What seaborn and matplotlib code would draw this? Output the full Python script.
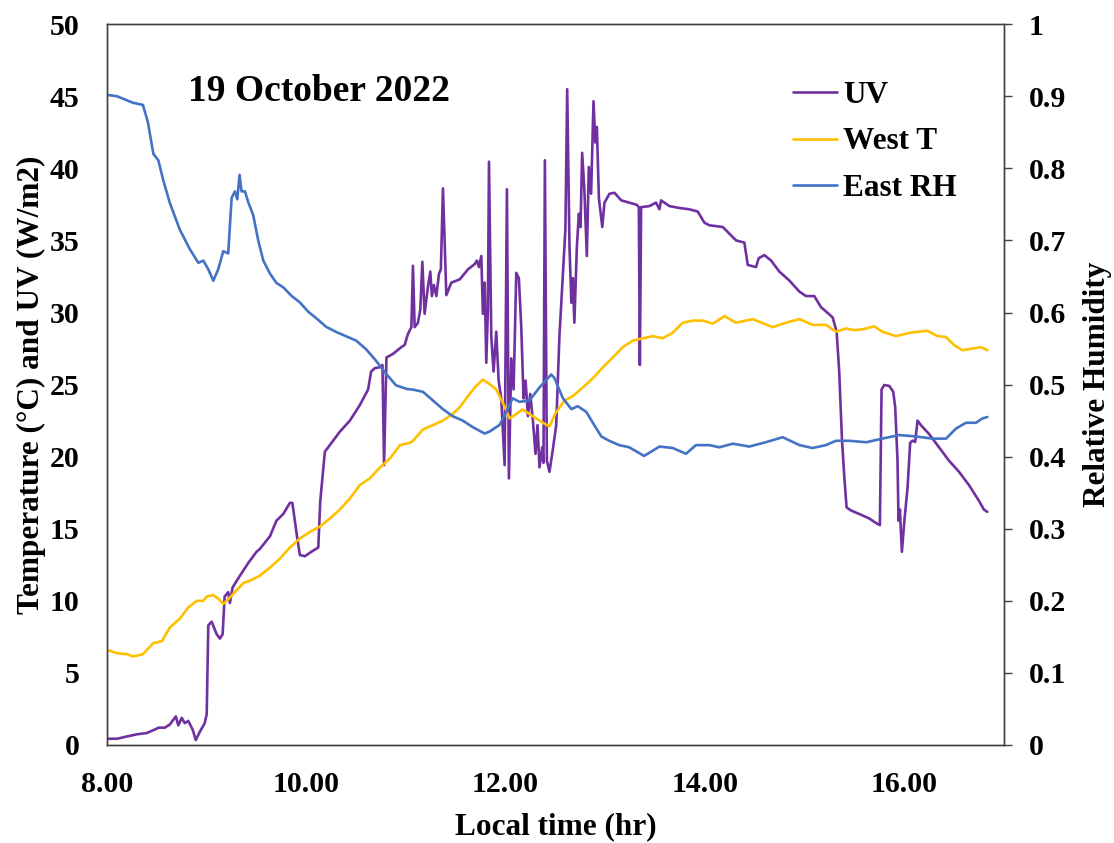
import pandas as pd
import matplotlib
matplotlib.use("Agg")
import matplotlib.pyplot as plt
import seaborn as sns

# UV (W/m2)
uv_time = [8.00, 8.10, 8.20, 8.30, 8.40, 8.47, 8.52, 8.58, 8.63, 8.69, 8.715, 8.75, 8.78, 8.815,
           8.86, 8.89, 8.93, 8.98, 9.00, 9.016, 9.05, 9.10, 9.133, 9.16, 9.18, 9.216, 9.233, 9.26,
           9.33, 9.417, 9.50, 9.534, 9.635, 9.70, 9.768, 9.835, 9.86, 9.90, 9.935, 9.985, 10.05,
           10.12, 10.14, 10.186, 10.236, 10.336, 10.437, 10.537, 10.62, 10.65, 10.687, 10.737,
           10.764, 10.78, 10.804, 10.87, 10.954, 10.987, 11.02, 11.054, 11.07, 11.087, 11.12,
           11.144, 11.164, 11.187, 11.22, 11.244, 11.26, 11.28, 11.305, 11.331, 11.35, 11.371,
           11.405, 11.455, 11.54, 11.622, 11.69, 11.712, 11.732, 11.756, 11.772, 11.79, 11.806,
           11.822, 11.833, 11.856, 11.879, 11.906, 11.93, 11.956, 11.99, 12.013, 12.033, 12.057,
           12.08, 12.107, 12.133, 12.157, 12.18, 12.20, 12.224, 12.247, 12.274, 12.30, 12.32,
           12.34, 12.367, 12.38, 12.394, 12.414, 12.44, 12.474, 12.508, 12.54, 12.575, 12.60,
           12.618, 12.641, 12.66, 12.675, 12.69, 12.715, 12.735, 12.752, 12.768, 12.79, 12.815,
           12.835, 12.858, 12.882, 12.90, 12.916, 12.936, 12.97, 12.992, 13.043, 13.093, 13.16,
           13.243, 13.317, 13.337, 13.347, 13.36, 13.443, 13.51, 13.544, 13.56, 13.644, 13.744,
           13.845, 13.928, 13.995, 14.045, 14.18, 14.246, 14.313, 14.396, 14.43, 14.513, 14.54,
           14.597, 14.663, 14.747, 14.847, 14.948, 15.014, 15.098, 15.165, 15.232, 15.282,
           15.322, 15.348, 15.375, 15.40, 15.422, 15.465, 15.55, 15.65, 15.716, 15.756, 15.773,
           15.80, 15.85, 15.89, 15.91, 15.933, 15.943, 15.957, 15.977, 16.00, 16.034, 16.06,
           16.084, 16.11, 16.134, 16.167, 16.25, 16.35, 16.45, 16.55, 16.65, 16.75, 16.80, 16.835]
uv_value = [0.43, 0.43, 0.59, 0.74, 0.83, 1.05, 1.20, 1.20, 1.42, 1.98, 1.36, 1.88, 1.51, 1.67,
            1.05, 0.34, 0.90, 1.51, 2.13, 8.30, 8.55, 7.68, 7.38, 7.68, 10.30, 10.60, 9.85, 10.93,
            11.70, 12.62, 13.40, 13.60, 14.48, 15.56, 16.02, 16.79, 16.79, 14.78, 13.18, 13.09, 13.40,
            13.70, 16.94, 20.34, 20.80, 21.73, 22.50, 23.58, 24.66, 25.90, 26.14, 26.20,
            26.36, 19.41, 26.88, 27.13, 27.60, 27.75, 28.52, 28.98, 33.24, 28.98, 29.29,
            30.22, 33.52, 29.91, 31.76, 32.84, 31.14, 31.91, 31.14, 32.68, 32.99, 38.61,
            31.20, 32.07, 32.30, 32.99, 33.36, 33.60, 33.15, 33.92, 29.91, 32.07, 26.51,
            30.22, 40.46, 28.36, 25.90, 28.67, 25.28, 24.04, 19.41, 38.55, 18.49, 26.82,
            24.66, 32.75, 32.38, 28.98, 24.04, 25.28, 22.81, 24.35, 22.50, 20.19, 22.19,
            19.26, 20.65, 19.57, 40.56, 19.72, 18.95, 20.50, 22.20, 28.36, 32.68, 35.77,
            45.49, 34.54, 30.68, 32.38, 29.29, 34.54, 36.85, 35.93, 41.08, 38.55, 33.92,
            40.09, 38.24, 44.66, 41.79, 42.87, 37.93, 35.93, 37.62, 38.24, 38.30, 37.78,
            37.62, 37.47, 37.31, 26.36, 37.31, 37.38, 37.62, 37.16, 37.78, 37.38, 37.25,
            37.16, 37.00, 36.23, 36.05, 35.93, 35.46, 35.00, 34.85, 33.30, 33.15, 33.77,
            33.98, 33.61, 32.84, 32.22, 31.45, 31.14, 31.14, 30.37, 29.97, 29.66,
            28.67, 25.90, 21.27, 18.49, 16.48, 16.27, 16.02, 15.71, 15.40, 15.25, 24.66,
            24.97, 24.91, 24.50, 23.43, 19.72, 15.56, 16.33, 13.40, 15.40, 17.87, 20.96,
            21.11, 21.02, 22.50, 22.19, 21.57, 20.65, 19.72, 18.95, 18.03, 16.94, 16.33, 16.17]

# West T (deg C)
west_time = [8.00, 8.10, 8.20, 8.26, 8.36, 8.465, 8.55, 8.63, 8.73, 8.815, 8.90, 8.966, 9.00,
             9.066, 9.116, 9.166, 9.216, 9.283, 9.367, 9.45, 9.534, 9.635, 9.735, 9.835, 9.935,
             10.036, 10.136, 10.236, 10.336, 10.437, 10.537, 10.637, 10.74, 10.84, 10.94, 11.04,
             11.07, 11.17, 11.27, 11.37, 11.47, 11.54, 11.605, 11.69, 11.77, 11.84, 11.906,
             11.973, 12.04, 12.107, 12.17, 12.24, 12.307, 12.374, 12.44, 12.50, 12.59, 12.675,
             12.775, 12.875, 12.976, 13.076, 13.176, 13.277, 13.377, 13.477, 13.577, 13.677,
             13.778, 13.878, 13.978, 14.08, 14.196, 14.31, 14.48, 14.68, 14.81, 14.95, 15.08,
             15.215, 15.315, 15.415, 15.50, 15.58, 15.70, 15.78, 15.917, 16.067, 16.234, 16.335,
             16.418, 16.50, 16.585, 16.685, 16.77, 16.835]
west_temp = [6.60, 6.36, 6.30, 6.14, 6.30, 7.07, 7.20, 8.15, 8.76, 9.54, 10.00, 10.00, 10.30,
             10.40, 10.15, 9.78, 10.10, 10.60, 11.23, 11.45, 11.75, 12.30, 12.93, 13.70, 14.32,
             14.78, 15.15, 15.71, 16.33, 17.10, 18.03, 18.49, 19.26, 19.88, 20.80, 20.96,
             21.10, 21.88, 22.19, 22.50, 22.96, 23.43, 24.04, 24.80, 25.34, 25.03, 24.66,
             23.73, 22.65, 22.96, 23.27, 22.96, 22.65, 22.35, 22.10, 23.00, 23.89, 24.20,
             24.80, 25.43, 26.20, 26.88, 27.60, 28.05, 28.21, 28.36, 28.21, 28.60,
             29.29, 29.44, 29.44, 29.23, 29.75, 29.29, 29.54, 28.98, 29.29, 29.54, 29.14,
             29.14, 28.67, 28.89, 28.78, 28.83, 29.04, 28.67, 28.36, 28.61, 28.73, 28.36,
             28.30, 27.75, 27.38, 27.50, 27.60, 27.38]

# East RH (fraction)
east_time = [8.00, 8.10, 8.26, 8.36, 8.41, 8.465, 8.515, 8.565, 8.63, 8.73, 8.83, 8.916, 8.966,
             9.016, 9.066, 9.116, 9.166, 9.216, 9.25, 9.283, 9.307, 9.33, 9.35, 9.384, 9.417,
             9.467, 9.517, 9.568, 9.635, 9.70, 9.768, 9.852, 9.935, 10.02, 10.10, 10.20, 10.30,
             10.40, 10.50, 10.60, 10.70, 10.80, 10.90, 11.005, 11.07, 11.17, 11.27, 11.37, 11.47,
             11.57, 11.67, 11.79, 11.84, 11.94, 12.006, 12.07, 12.14, 12.24, 12.34, 12.458,
             12.49, 12.575, 12.66, 12.725, 12.81, 12.875, 12.96, 13.04, 13.14, 13.24, 13.39,
             13.544, 13.677, 13.81, 13.91, 14.045, 14.145, 14.28, 14.446, 14.61, 14.78, 14.95,
             15.08, 15.215, 15.315, 15.45, 15.62, 15.78, 15.95, 16.12, 16.285, 16.42, 16.52,
             16.62, 16.72, 16.785, 16.835]
east_rh = [0.902, 0.900, 0.891, 0.888, 0.864, 0.820, 0.811, 0.783, 0.752, 0.715, 0.688, 0.669, 0.672,
           0.660, 0.644, 0.660, 0.685, 0.682, 0.759, 0.768, 0.757, 0.791, 0.768, 0.768, 0.753,
           0.735, 0.700, 0.672, 0.654, 0.641, 0.635, 0.623, 0.614, 0.601, 0.592, 0.580, 0.573,
           0.567, 0.561, 0.549, 0.533, 0.515, 0.499, 0.494, 0.493, 0.490, 0.478, 0.466, 0.456,
           0.450, 0.441, 0.432, 0.435, 0.444, 0.462, 0.481, 0.476, 0.478, 0.496, 0.514,
           0.509, 0.481, 0.466, 0.470, 0.462, 0.447, 0.428, 0.422, 0.416, 0.413, 0.401,
           0.414, 0.412, 0.404, 0.416, 0.416, 0.413, 0.418, 0.414, 0.420, 0.427, 0.416,
           0.412, 0.416, 0.422, 0.422, 0.420, 0.425, 0.430, 0.428, 0.425, 0.425, 0.439,
           0.447, 0.447, 0.453, 0.455]

x_ticks = [8, 10, 12, 14, 16]
x_tick_labels = ["8.00", "10.00", "12.00", "14.00", "16.00"]

uv_df = pd.DataFrame({"time": uv_time, "value": uv_value})
west_df = pd.DataFrame({"time": west_time, "value": west_temp})
east_df = pd.DataFrame({"time": east_time, "value": east_rh})

sns.set_style("white")
plt.rcParams["font.family"] = ["Liberation Serif", "DejaVu Serif"]
plt.rcParams["font.weight"] = "bold"
plt.rcParams["text.color"] = "black"
plt.rcParams["axes.labelcolor"] = "black"
plt.rcParams["xtick.color"] = "black"
plt.rcParams["ytick.color"] = "black"

fig = plt.figure(figsize=(11.14, 8.43), dpi=100)
ax = fig.add_axes([0.0961, 0.1163, 0.805, 0.855])
ax2 = ax.twinx()

sns.lineplot(data=uv_df, x="time", y="value", ax=ax, color="#7030A0", linewidth=1.9,
             estimator=None, sort=False, label="UV", legend=False)
sns.lineplot(data=west_df, x="time", y="value", ax=ax, color="#FFC000", linewidth=1.9,
             estimator=None, sort=False, label="West T", legend=False)
sns.lineplot(data=east_df, x="time", y="value", ax=ax2, color="#4472C4", linewidth=1.9,
             estimator=None, sort=False, label="East RH", legend=False)

ax.set_xlim(8, 17)
ax.set_ylim(0, 50)
ax2.set_ylim(0, 1)
ax.set_xticks(x_ticks)
ax.set_xticklabels(x_tick_labels)
ax.set_yticks(range(0, 51, 5))
ax2.set_yticks([i / 10 for i in range(11)])
ax2.set_yticklabels(["0", "0.1", "0.2", "0.3", "0.4", "0.5", "0.6", "0.7", "0.8", "0.9", "1"])

ax.tick_params(axis="x", length=0, pad=19, labelsize=21.5)
ax.tick_params(axis="y", length=0, pad=20, labelsize=21.5)
ax2.tick_params(axis="y", length=6, width=1, pad=12, labelsize=21.5, color="#404040")

for a in (ax, ax2):
    for s in a.spines.values():
        s.set_color("#404040")
        s.set_linewidth(1.0)

ax.set_xlabel("Local time (hr)", fontsize=22.5, fontweight="bold")
ax.set_ylabel("Temperature (\u00b0C) and UV (W/m2)", fontsize=22.5, fontweight="bold")
ax2.set_ylabel("Relative Humidity", fontsize=22.5, fontweight="bold")
ax.xaxis.set_label_coords(0.5, -0.093)
ax.yaxis.set_label_coords(-0.068, 0.5)
ax2.yaxis.set_label_coords(1.088, 0.5)

ax.text(0.09, 0.906, "19 October 2022", transform=ax.transAxes, fontsize=27,
        fontweight="bold", ha="left", va="center")

h1, l1 = ax.get_legend_handles_labels()
h2, l2 = ax2.get_legend_handles_labels()
ax2.legend(h1 + h2, l1 + l2, loc="upper left", bbox_to_anchor=(0.751, 0.939),
           frameon=False, fontsize=22.5, handlelength=1.41, handletextpad=0.19,
           labelspacing=0.57, borderaxespad=0)

fig.savefig("out.png", dpi=100)
